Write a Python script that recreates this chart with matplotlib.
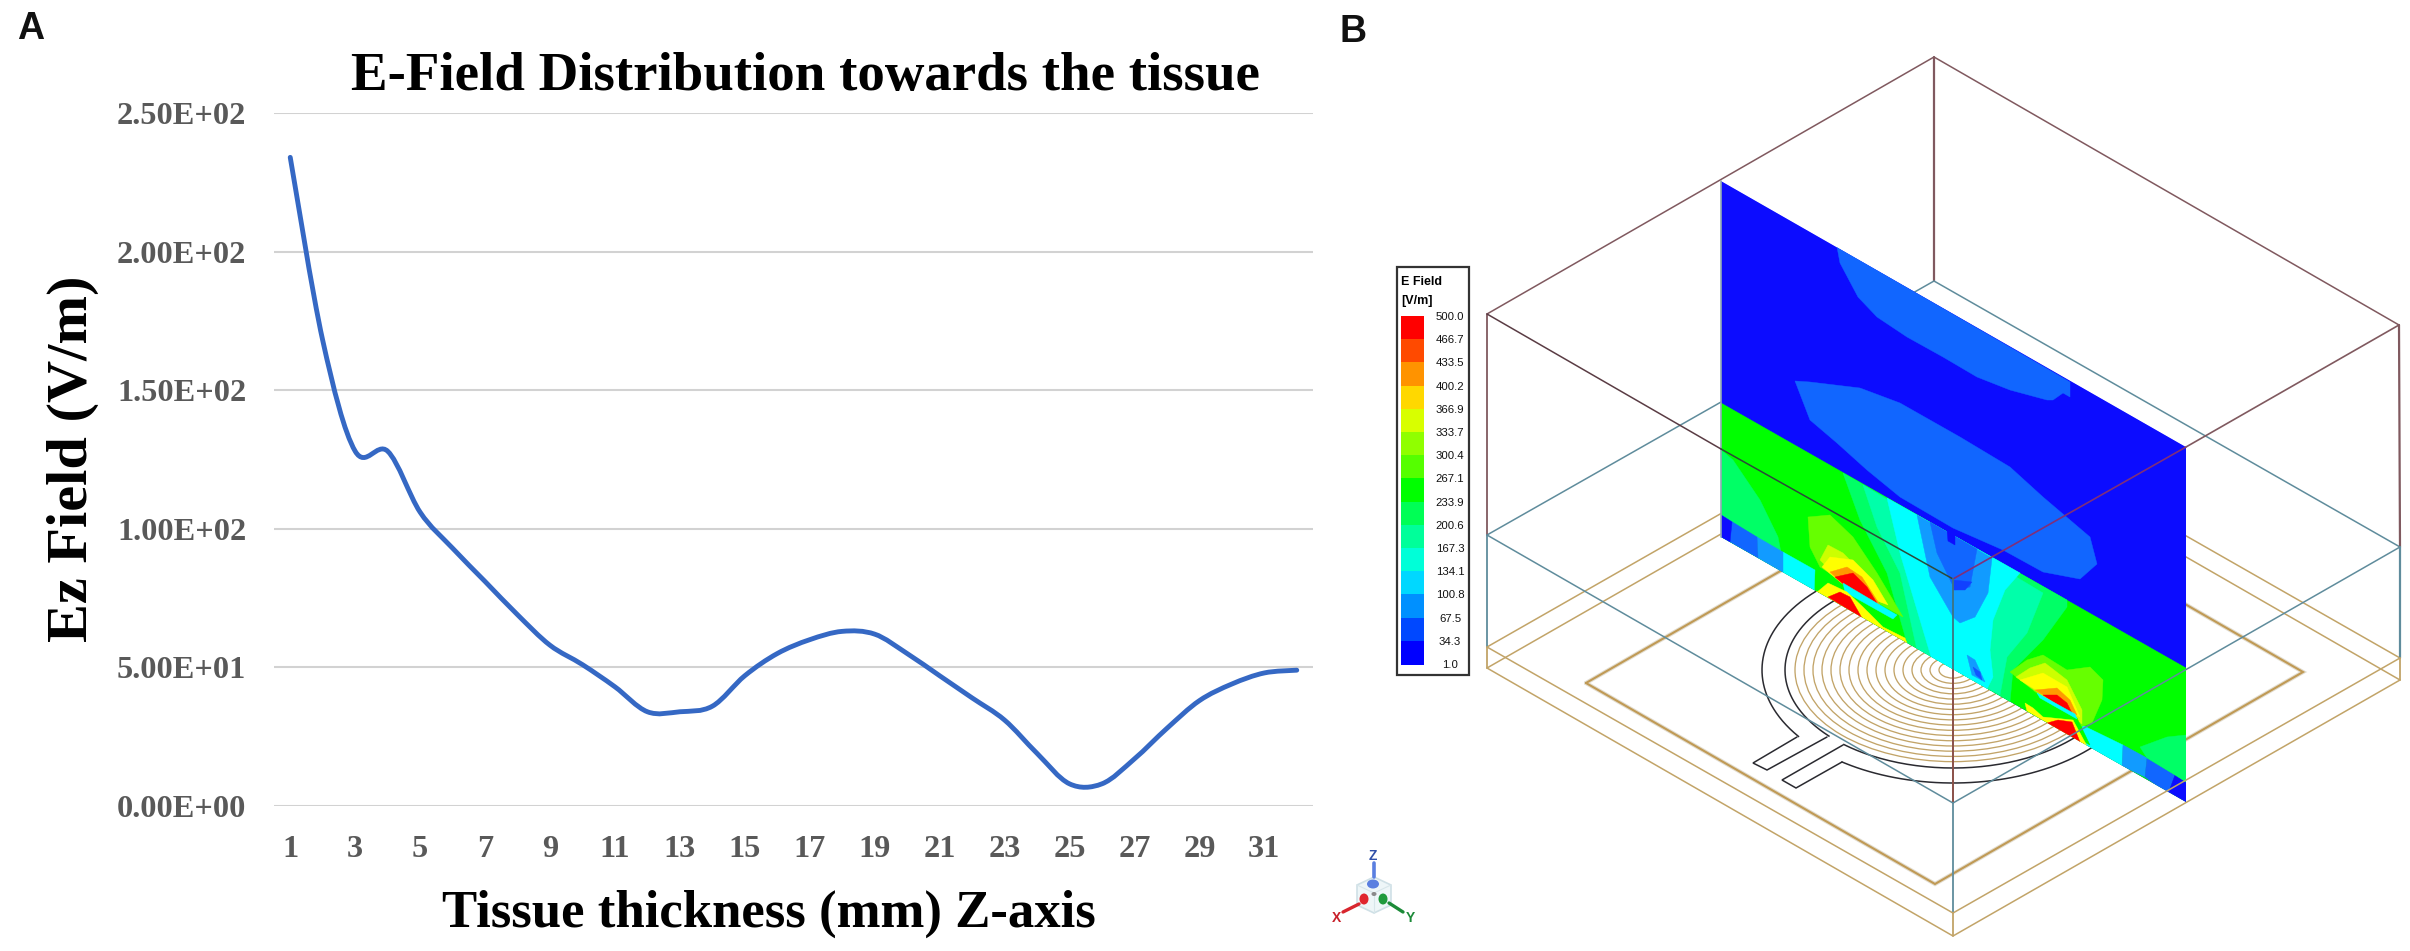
import numpy as np
import matplotlib
matplotlib.use("Agg")
import matplotlib.pyplot as plt
from matplotlib.path import Path
from matplotlib.patches import PathPatch, Polygon, Rectangle, Ellipse

# panel A data
thickness = list(range(1, 33))
ez_field = [234, 168, 128, 128, 106, 93, 81, 69, 58, 51, 43, 34, 34, 36, 47, 55,
            60, 63, 62, 55, 47, 39, 31, 19, 8, 8, 17, 28, 38, 44, 48, 49]
y_ticks = [0, 50, 100, 150, 200, 250]
y_labels = ["0.00E+00", "5.00E+01", "1.00E+02", "1.50E+02", "2.00E+02", "2.50E+02"]
x_ticks = list(range(1, 32, 2))

# panel B legend
legend_values = ["500.0", "466.7", "433.5", "400.2", "366.9", "333.7", "300.4", "267.1",
                 "233.9", "200.6", "167.3", "134.1", "100.8", "67.5", "34.3", "1.0"]
legend_colors = ["#ff0000", "#ff4a00", "#ff9300", "#ffd800", "#d8ff00", "#90ff00", "#55ff00",
                 "#00ff00", "#00ff55", "#00ff9a", "#00ffd8", "#00d8ff", "#0090ff", "#0048ff", "#0000ff"]

# colours used on the field plane
BLUE = "#0c0cff"
MID = "#1166ff"
SKY = "#119bff"
CYAN = "#00ffff"
AQUA = "#00ffaa"
SPRING = "#00ff66"
GREEN = "#00ff00"
LIME = "#66ff00"
CHART = "#ccff00"
YELLOW = "#ffff00"
ORANGE = "#ff9a00"
RED = "#ff0000"

# contour regions on the plane, back to front, in picture pixels
plane_regions = [
    (BLUE, [(1721, 181), (2186, 447), (2186, 802), (1721, 537)]),
    (MID, [(1837, 247), (1840, 263), (1858, 297), (1877, 317), (1907, 337), (1943, 357), (1977, 377),
           (2010, 390), (2047, 400), (2053, 400), (2063, 393), (2070, 397), (2070, 382)]),
    (MID, [(1795, 381), (1810, 382), (1860, 388), (1900, 403), (1960, 437), (2010, 467), (2043, 497),
           (2090, 537), (2097, 564), (2080, 579), (2043, 572), (2003, 550), (1953, 528), (1900, 497),
           (1867, 470), (1837, 443), (1810, 420)]),
    (GREEN, [(1721, 403), (2186, 668), (2186, 802), (1721, 537)]),
    (SPRING, [(1721, 450), (1733, 460), (1760, 500), (1778, 537), (1785, 573), (1721, 537)]),
    (SPRING, [(1843, 473), (1860, 520), (1887, 573), (1907, 643), (2010, 702), (2013, 670), (2043, 640),
              (2067, 607), (2067, 600)]),
    (AQUA, [(1863, 485), (1877, 527), (1900, 573), (1917, 650), (2000, 695), (2007, 657), (2027, 633),
            (2043, 593)]),
    (CYAN, [(1887, 498), (1900, 553), (1923, 630), (1932, 660), (1987, 689), (1993, 677), (1990, 650),
            (1993, 620), (2005, 590), (2020, 573)]),
    (SKY, [(1917, 515), (1930, 577), (1953, 617), (1960, 623), (1975, 617), (1988, 593), (1992, 558)]),
    (MID, [(1930, 522), (1937, 553), (1955, 590), (1970, 587), (1977, 549)]),
    (BLUE, [(1947, 530), (1948, 541), (1955, 545), (1955, 534)]),
    ("#1140ff", [(1953, 580), (1953, 590), (1965, 590), (1972, 582)]),
    (SKY, [(1967, 655), (1975, 660), (1985, 682), (1972, 675)]),
    ("#1155ff", [(1973, 667), (1980, 672), (1982, 680), (1976, 675)]),
    (CYAN, [(1783, 552), (1815, 570), (1813, 625), (1783, 573)]),
    (SKY, [(1757, 537), (1783, 552), (1783, 573), (1758, 558)]),
    (MID, [(1721, 515), (1757, 537), (1758, 558), (1721, 537)]),
    (BLUE, [(1721, 515), (1732, 522), (1730, 542), (1721, 537)]),
    (CYAN, [(2082, 725), (2123, 745), (2122, 766), (2085, 745)]),
    (SKY, [(2123, 745), (2147, 758), (2145, 777), (2122, 766)]),
    (MID, [(2147, 758), (2175, 775), (2168, 794), (2145, 777)]),
    (BLUE, [(2175, 775), (2186, 782), (2186, 802), (2168, 794)]),
    (SPRING, [(2140, 747), (2167, 737), (2186, 735), (2186, 782), (2175, 775), (2147, 758)]),
    # left lobe
    (LIME, [(1808, 517), (1830, 515), (1853, 537), (1877, 573), (1903, 617), (1867, 597), (1820, 567),
            (1810, 547)]),
    (CHART, [(1820, 560), (1828, 545), (1843, 553), (1863, 573), (1883, 603), (1850, 590)]),
    (YELLOW, [(1822, 567), (1830, 557), (1853, 560), (1873, 580), (1888, 605), (1850, 590)]),
    (ORANGE, [(1830, 572), (1847, 567), (1862, 577), (1880, 605), (1850, 590)]),
    (RED, [(1835, 577), (1853, 573), (1867, 587), (1877, 603), (1847, 587)]),
    (GREEN, [(1825, 590), (1833, 583), (1897, 617), (1905, 640), (1880, 628)]),
    (CYAN, [(1843, 583), (1880, 605), (1897, 615), (1893, 619), (1845, 592)]),
    (YELLOW, [(1816, 593), (1828, 583), (1847, 592), (1863, 607), (1883, 627), (1905, 638), (1907, 643),
              (1816, 591)]),
    (RED, [(1828, 597), (1840, 592), (1850, 597), (1862, 618)]),
    # right lobe
    (LIME, [(2010, 672), (2027, 660), (2043, 655), (2067, 670), (2090, 667), (2103, 680), (2102, 700),
            (2092, 723), (2080, 727)]),
    (CHART, [(2016, 677), (2030, 668), (2045, 663), (2067, 680), (2082, 710), (2082, 724)]),
    (YELLOW, [(2020, 680), (2043, 673), (2067, 687), (2080, 717)]),
    (ORANGE, [(2035, 690), (2057, 688), (2070, 700), (2077, 715)]),
    (RED, [(2043, 695), (2057, 695), (2067, 703), (2073, 715)]),
    (GREEN, [(2015, 695), (2037, 697), (2077, 718), (2090, 745), (2027, 712)]),
    (CYAN, [(2037, 693), (2075, 714), (2077, 719), (2040, 698)]),
    (YELLOW, [(2025, 703), (2033, 708), (2043, 717), (2073, 720), (2087, 746), (2027, 711)]),
    (RED, [(2047, 723), (2058, 720), (2072, 722), (2080, 742)]),
]

# box corners in picture pixels
top_box = [(1487, 314), (1934, 57), (2399, 325), (1953, 579)]
mid_box = [(1487, 535), (1934, 281), (2400, 547), (1953, 803)]
low_box_1 = [(1487, 647), (1934, 392), (2400, 658), (1953, 913)]
low_box_2 = [(1487, 668), (1934, 412), (2400, 680), (1953, 936)]
board = [(1586, 683), (1954, 471), (2303, 672), (1935, 884)]
feed_outer = [(1797, 737), (1753, 763), (1767, 770), (1827, 737)]
feed_inner = [(1843, 745), (1782, 780), (1796, 788), (1842, 762)]
coil_radii = [14, 23, 32, 41, 50, 59, 68, 77, 86, 95, 104, 113, 122, 131, 140, 149, 158]
coil_centre = (1953, 670)

MAROON = "#80595f"
TEAL = "#5f8c9c"
TAN = "#c2a468"
INK = "#2a2a30"
SERIF = "Liberation Serif"


def smooth_path(xs, ys):
    # same kind of smoothing a spreadsheet line uses
    verts = [(xs[0], ys[0])]
    codes = [Path.MOVETO]
    n = len(xs)
    for i in range(n - 1):
        a = max(i - 1, 0)
        b = min(i + 2, n - 1)
        verts.append((xs[i] + (xs[i + 1] - xs[a]) / 6, ys[i] + (ys[i + 1] - ys[a]) / 6))
        verts.append((xs[i + 1] - (xs[b] - xs[i]) / 6, ys[i + 1] - (ys[b] - ys[i]) / 6))
        verts.append((xs[i + 1], ys[i + 1]))
        codes += [Path.CURVE4] * 3
    return Path(verts, codes)


def arc_xy(cx, cy, rx, ry, t1, t2):
    t = np.radians(np.linspace(t1, t2, 240))
    return cx + rx * np.cos(t), cy + ry * np.sin(t)


def lines(ax, pts, color, lw=1.1, z=2, close=False):
    pts = list(pts) + ([pts[0]] if close else [])
    ax.plot([p[0] for p in pts], [p[1] for p in pts], color=color, lw=lw, zorder=z,
            solid_capstyle="round", solid_joinstyle="miter")


W, H = 2410, 951
fig = plt.figure(figsize=(W / 100, H / 100), dpi=100, facecolor="white")

# ---- panel A ----
left, right, top, bottom = 274, 1313, 113, 806
ax = fig.add_axes([left / W, 1 - bottom / H, (right - left) / W, (bottom - top) / H])
ax.set_xlim(0.5, 32.5)
ax.set_ylim(0, 250)
for s in ax.spines.values():
    s.set_visible(False)
ax.set_yticks(y_ticks)
ax.set_yticklabels(y_labels, family=SERIF, weight="bold", size=23.3, color="#595959")
ax.set_xticks(x_ticks)
ax.set_xticklabels(x_ticks, family=SERIF, weight="bold", size=23.3, color="#595959")
ax.tick_params(length=0, axis="y", pad=20)
ax.tick_params(length=0, axis="x", pad=21)
ax.grid(axis="y", color="#d2d2d2", lw=1.5)
ax.set_axisbelow(True)
ax.add_patch(PathPatch(smooth_path(thickness, ez_field), fill=False, edgecolor="#3568c4", lw=3.5,
                       capstyle="round", zorder=3, clip_on=False))

# ---- full figure layer for titles and panel B, in picture pixels ----
ov = fig.add_axes([0, 0, 1, 1])
ov.set_xlim(0, W)
ov.set_ylim(H, 0)
ov.axis("off")
ov.patch.set_alpha(0)

ov.text(17, 29, "A", family="Liberation Sans", weight="bold", size=27, va="center", color="#111111")
ov.text(1340, 32, "B", family="Liberation Sans", weight="bold", size=27, va="center", color="#111111")
ov.text(351, 77, "E-Field Distribution towards the tissue", family=SERIF, weight="bold", size=39.5,
        va="center", color="black")
ov.text(769, 914, "Tissue thickness (mm) Z-axis", family=SERIF, weight="bold", size=38,
        ha="center", va="center", color="black")
ov.text(73, 459, "Ez Field (V/m)", family=SERIF, weight="bold", size=42, rotation=90,
        ha="center", va="center", color="black")

# legend
ov.add_patch(Rectangle((1397, 267), 72, 408, facecolor="white", edgecolor="#333333", lw=1.6, zorder=2))
ov.text(1401, 282, "E Field", family="Liberation Sans", size=9, weight="bold", va="center", zorder=3)
ov.text(1401, 301, "[V/m]", family="Liberation Sans", size=9, weight="bold", va="center", zorder=3)
swatch_h = (664 - 316) / len(legend_colors)
for i, c in enumerate(legend_colors):
    ov.add_patch(Rectangle((1401, 316 + i * swatch_h), 23, swatch_h + 0.5, facecolor=c, edgecolor="none", zorder=3))
for i, v in enumerate(legend_values):
    ov.text(1450, 317 + i * swatch_h, v, family="Liberation Sans", size=8.2, ha="center", va="center",
            color="#111111", zorder=3)

# parts behind the plane
lines(ov, [top_box[0], top_box[1], top_box[2]], MAROON)
lines(ov, [top_box[1], mid_box[1]], MAROON, lw=1.6)
lines(ov, [mid_box[0], mid_box[1], mid_box[2]], TEAL)
lines(ov, [low_box_1[0], low_box_1[1], low_box_1[2]], TAN)
lines(ov, [low_box_2[0], low_box_2[1], low_box_2[2]], TAN)
lines(ov, [top_box[0], mid_box[0]], MAROON, lw=1.3)
lines(ov, [mid_box[0], low_box_1[0]], TEAL, lw=1.3)
lines(ov, [low_box_1[0], low_box_2[0]], TAN, lw=1.3)
lines(ov, [top_box[2], mid_box[2]], MAROON, lw=1.6)
lines(ov, [mid_box[2], low_box_1[2]], TEAL, lw=1.6)
lines(ov, [low_box_1[2], low_box_2[2]], TAN, lw=1.3)

# board outline and coil
lines(ov, board, "#e2ddd0", lw=3.0, z=2, close=True)
lines(ov, board, "#c09a55", lw=1.5, z=2.1, close=True)
for r in coil_radii:
    ov.add_patch(Ellipse(coil_centre, 2 * r, 2 * r * 0.58, fill=False, edgecolor=TAN, lw=0.95, zorder=2.2))
cx, cy = coil_centre
ax_o, ay_o = arc_xy(cx, cy, 191, 113, -125, 125.5)
ov.plot(ax_o, ay_o, color=INK, lw=1.1, zorder=2.3)
ax_o, ay_o = arc_xy(cx, cy, 191, 113, 144, 235)
ov.plot(ax_o, ay_o, color=INK, lw=1.1, zorder=2.3)
ax_i, ay_i = arc_xy(cx, cy, 168, 98, -125, 130.5)
ov.plot(ax_i, ay_i, color=INK, lw=1.1, zorder=2.3)
ax_i, ay_i = arc_xy(cx, cy, 168, 98, 137.6, 235)
ov.plot(ax_i, ay_i, color=INK, lw=1.1, zorder=2.3)
lines(ov, feed_outer, INK, lw=1.1, z=2.3)
lines(ov, feed_inner, INK, lw=1.1, z=2.3)

# field plane
clip_plane = Polygon(plane_regions[0][1], closed=True, transform=ov.transData)
for k, (c, pts) in enumerate(plane_regions):
    patch = Polygon(pts, closed=True, facecolor=c, edgecolor=c, lw=0.3, zorder=3 + k * 0.01)
    ov.add_patch(patch)
    patch.set_clip_path(clip_plane)
lines(ov, [(1721, 181), (1721, 537)], "#8fa9b4", lw=1.2, z=4)

# parts in front of the plane
lines(ov, [top_box[0], (1721, 449)], "#5a3c44", lw=1.1, z=5)
lines(ov, [(1721, 449), top_box[3]], "#2c4a3a", lw=1.1, z=5)
lines(ov, [top_box[3], (2186, 447)], "#7f2f7a", lw=1.2, z=5)
lines(ov, [(2186, 447), top_box[2]], MAROON, lw=1.2, z=5)
lines(ov, [top_box[3], (1953, 670)], "#3f7480", lw=1.3, z=5)
lines(ov, [(1953, 670), mid_box[3]], "#8a5048", lw=1.4, z=5)
lines(ov, [mid_box[3], low_box_1[3]], TEAL, lw=1.3, z=5)
lines(ov, [low_box_1[3], low_box_2[3]], TAN, lw=1.3, z=5)
lines(ov, [mid_box[0], mid_box[3]], TEAL, z=5)
lines(ov, [mid_box[3], mid_box[2]], TEAL, z=5)
lines(ov, [low_box_1[0], low_box_1[3], low_box_1[2]], TAN, z=5)
lines(ov, [low_box_2[0], low_box_2[3], low_box_2[2]], TAN, z=5)

# axis triad
ov.add_patch(Polygon([(1357, 885), (1374, 877), (1391, 885), (1391, 905), (1374, 913), (1357, 905)],
                     closed=True, facecolor="#eef6f8", edgecolor="#cfe0e6", lw=1.2, zorder=3))
lines(ov, [(1357, 885), (1374, 893), (1391, 885)], "#d8e6ea", lw=0.8, z=3.1)
lines(ov, [(1374, 893), (1374, 913)], "#d8e6ea", lw=0.8, z=3.1)
ov.add_patch(Ellipse((1373, 884), 12, 9, facecolor="#5a7fe0", edgecolor="none", zorder=4))
ov.add_patch(Ellipse((1364, 899), 9, 11, facecolor="#e0262e", edgecolor="none", zorder=4))
ov.add_patch(Ellipse((1383, 899), 9, 11, facecolor="#1f9a3c", edgecolor="none", zorder=4))
ov.add_patch(Ellipse((1374, 894), 5, 4, facecolor="#8a8a8a", edgecolor="none", zorder=4))
lines(ov, [(1374, 877), (1374, 863)], "#5a7fe0", lw=2.6, z=4)
lines(ov, [(1359, 904), (1343, 912)], "#d8262e", lw=2.4, z=4)
lines(ov, [(1389, 903), (1403, 912)], "#1c8a38", lw=2.4, z=4)
ov.text(1373, 856, "Z", family="Liberation Sans", weight="bold", size=10, ha="center", va="center",
        color="#2f4fa8", zorder=4)
ov.text(1336, 918, "X", family="Liberation Sans", weight="bold", size=10, ha="center", va="center",
        color="#c8202a", zorder=4)
ov.text(1410, 918, "Y", family="Liberation Sans", weight="bold", size=10, ha="center", va="center",
        color="#1c8a38", zorder=4)

fig.savefig("out.png", dpi=100)
